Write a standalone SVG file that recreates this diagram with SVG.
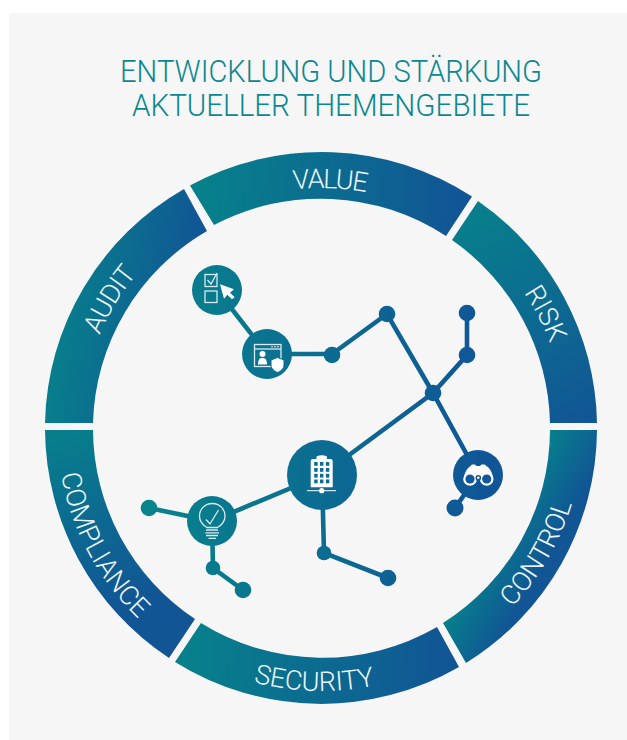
<svg xmlns="http://www.w3.org/2000/svg" xmlns:xlink="http://www.w3.org/1999/xlink" width="627" height="740" viewBox="0 0 627 740">
<style>
.t{font-family:"Roboto","Liberation Sans",sans-serif;font-weight:300}
.title{font-size:32px;fill:#0b8791;text-anchor:middle}
.lab{font-size:27px;fill:#eef5f7;text-anchor:middle}
.ic{fill:none;stroke:#dbeaf0;stroke-width:1.3}
.wf{fill:#fff}
.link{fill:none;stroke:url(#net);stroke-width:4.6}
.dot{fill:url(#net)}
</style>
<defs>
<linearGradient id="net" gradientUnits="userSpaceOnUse" x1="150" y1="0" x2="480" y2="0"><stop offset="0" stop-color="#07838c"/><stop offset="1" stop-color="#105696"/></linearGradient>
<linearGradient id="gValue" gradientUnits="userSpaceOnUse" x1="205" y1="205" x2="460" y2="215"><stop offset="0" stop-color="#07808b"/><stop offset="1" stop-color="#115595"/></linearGradient>
<linearGradient id="gRisk" gradientUnits="userSpaceOnUse" x1="478" y1="201" x2="609" y2="413"><stop offset="0" stop-color="#07808b"/><stop offset="1" stop-color="#115595"/></linearGradient>
<linearGradient id="gControl" gradientUnits="userSpaceOnUse" x1="443" y1="623" x2="495" y2="652"><stop offset="0" stop-color="#07808b"/><stop offset="1" stop-color="#115595"/></linearGradient>
<linearGradient id="gSecurity" gradientUnits="userSpaceOnUse" x1="190" y1="640" x2="450" y2="650"><stop offset="0" stop-color="#07808b"/><stop offset="1" stop-color="#115595"/></linearGradient>
<linearGradient id="gCompliance" gradientUnits="userSpaceOnUse" x1="45" y1="430" x2="109" y2="612"><stop offset="0" stop-color="#07808b"/><stop offset="1" stop-color="#115595"/></linearGradient>
<linearGradient id="gAudit" gradientUnits="userSpaceOnUse" x1="38" y1="422" x2="172" y2="442"><stop offset="0" stop-color="#07808b"/><stop offset="1" stop-color="#115595"/></linearGradient>
<path id="pValue" d="M208.3 216.1A240 240 0 0 1 448.2 224.5"/>
<path id="pRisk" d="M453.9 223.4A244 244 0 0 1 564.7 440.8"/>
<path id="pAudit" d="M81 423.8A240 240 0 0 1 204.6 218.1"/>
<path id="pCompliance" d="M57.2 417.4A264 264 0 0 0 179.9 651.2"/>
<path id="pSecurity" d="M181.6 651A263 263 0 0 0 444.5 660.2"/>
<path id="pControl" d="M452 654.9A262 262 0 0 0 583 428"/>
</defs>
<rect width="627" height="740" fill="#fff"/>
<rect x="9" y="13" width="618" height="727" fill="#f6f6f6"/>
<g id="title" class="t">
<text class="title" x="331" y="82" textLength="422" lengthAdjust="spacingAndGlyphs">ENTWICKLUNG UND STÄRKUNG</text>
<text class="title" x="331" y="116" textLength="398" lengthAdjust="spacingAndGlyphs">AKTUELLER THEMENGEBIETE</text>
</g>
<g id="seg-value"><path fill="url(#gValue)" d="M190 185.5A276 276 0 0 1 472 196.5L446 236A229 229 0 0 0 214 225Z"/><text class="t lab" letter-spacing="-1.5"><textPath href="#pValue" startOffset="50%">VALUE</textPath></text></g>
<g id="seg-risk"><path fill="url(#gRisk)" d="M478 201A276 276 0 0 1 597 423H550A229 229 0 0 0 452 240Z"/><text class="t lab"><textPath href="#pRisk" startOffset="50%">RISK</textPath></text></g>
<g id="seg-control"><path fill="url(#gControl)" d="M597 430A276 276 0 0 1 466 663L443 623A229 229 0 0 0 550 430Z"/><text class="t lab"><textPath href="#pControl" startOffset="50%">CONTROL</textPath></text></g>
<g id="seg-security"><path fill="url(#gSecurity)" d="M459 667A276 276 0 0 1 175 662L201 623A229 229 0 0 0 437 627Z"/><text class="t lab"><textPath href="#pSecurity" startOffset="50.800%">SECURITY</textPath></text></g>
<g id="seg-compliance"><path fill="url(#gCompliance)" d="M169 658A276 276 0 0 1 45 430H93A229 229 0 0 0 195 619Z"/><text class="t lab"><textPath href="#pCompliance" startOffset="50.800%">COMPLIANCE</textPath></text></g>
<g id="seg-audit"><path fill="url(#gAudit)" d="M45 423A276 276 0 0 1 184 189L207 231A229 229 0 0 0 93 423Z"/><text class="t lab" letter-spacing="-.8"><textPath href="#pAudit" startOffset="50.500%">AUDIT</textPath></text></g>
<g id="connectors">
<path class="link" d="M217 290L267 354H332L387 314L433 393L478 475L455 508"/>
<path class="link" d="M467 313V355L433 393L322 475L212 521L149 508"/>
<path class="link" d="M212 521L213 568L243 590"/>
<path class="link" d="M322 475L324 553L388 578"/>
</g>
<g id="node-checklist"><circle class="dot" cx="217" cy="290" r="25"/>
<rect class="ic" x="205" y="274.5" width="12" height="12"/><rect class="ic" x="205" y="291" width="12" height="11.5"/>
<path class="ic" d="M207.5 280L211 284L217 273"/>
<path class="wf" d="M220 284.3L234 289.3L230 292.7L234.7 297.3L232 299.3L227.3 294.7L224 298.7Z"/></g>
<g id="node-browser"><circle class="dot" cx="267" cy="354" r="25"/>
<rect class="ic" x="254.5" y="344.5" width="26.5" height="22"/><path class="ic" d="M254.5 349H281"/>
<circle class="wf" cx="272" cy="346.8" r=".8"/><circle class="wf" cx="275" cy="346.8" r=".8"/><circle class="wf" cx="278" cy="346.8" r=".8"/>
<circle class="wf" cx="262.5" cy="354" r="3"/><path class="wf" d="M258 364.500C258 359 260 358 262.500 358S267 359 267 364.500Z"/>
<path class="wf" stroke="#097091" stroke-width="1" d="M277.500 357.500L284 360V365C284 369 280 371.500 277.500 372.500C275 371.500 271 369 271 365V360Z"/></g>
<g id="node-hub1"><circle class="dot" cx="332" cy="355" r="8.300"/></g>
<g id="node-hub2"><circle class="dot" cx="387" cy="314" r="8.300"/></g>
<g id="node-hub3"><circle class="dot" cx="467" cy="313" r="8.300"/></g>
<g id="node-hub4"><circle class="dot" cx="467" cy="355" r="8.300"/></g>
<g id="node-hub5"><circle class="dot" cx="433" cy="393" r="8.300"/></g>
<g id="node-building"><circle class="dot" cx="322" cy="475" r="35"/>
<path class="wf" d="M310.700 487.300V461Q310.700 459 313 459H316.500V456.500Q321.700 454 327 456.500V459H330.500Q332.700 459 332.700 461V487.300Z"/>
<g fill="#0b6b92"><rect x="314.200" y="462" width="3.400" height="3.800"/><rect x="320" y="462" width="3.400" height="3.800"/><rect x="325.900" y="462" width="3.400" height="3.800"/>
<rect x="314.200" y="468" width="3.400" height="3.800"/><rect x="320" y="468" width="3.400" height="3.800"/><rect x="325.900" y="468" width="3.400" height="3.800"/>
<rect x="314.200" y="473.800" width="3.400" height="3.800"/><rect x="320" y="473.800" width="3.400" height="3.800"/><rect x="325.900" y="473.800" width="3.400" height="3.800"/>
<rect x="314.200" y="479.500" width="3.400" height="3.800"/><rect x="320" y="479.500" width="3.400" height="3.800"/><rect x="325.900" y="479.500" width="3.400" height="3.800"/></g>
<path d="M307 490.700H336" stroke="#fff" stroke-width="1"/><circle class="wf" cx="321.700" cy="490.700" r="2.600"/></g>
<g id="node-hub6"><circle class="dot" cx="324" cy="553" r="7.300"/></g>
<g id="node-hub7"><circle class="dot" cx="388" cy="578" r="8.300"/></g>
<g id="node-bulb"><circle class="dot" cx="212" cy="521" r="25"/>
<path class="ic" d="M207 527.500C202 524.500 199.500 520.500 199.500 516C199.500 509 205 503.500 212.300 503.500S225 509 225 516C225 520.500 222.500 524.500 217.500 527.500Z"/>
<path class="ic" d="M206 519.500L210 524L218.500 510"/>
<path class="ic" stroke-width="1" d="M206 530H218M205.500 532.800H219M206 535.500H218M208.500 538.300H216"/></g>
<g id="node-hub8"><circle class="dot" cx="149" cy="508" r="8.300"/></g>
<g id="node-hub9"><circle class="dot" cx="213" cy="568" r="7.300"/></g>
<g id="node-hub10"><circle class="dot" cx="243" cy="590" r="8.300"/></g>
<g id="node-binoculars"><circle class="dot" cx="478" cy="475" r="25"/>
<path class="wf" d="M464 479C464 474 467 468 470 466.500L472 464.500L475 464.500L476.500 466H480L481.500 464.500L484.500 464.500L487 466.500C490 468 493 474 493 479Z"/>
<circle class="wf" cx="470" cy="479" r="6.800"/><circle class="wf" cx="486.700" cy="479" r="6.800"/>
<circle cx="470" cy="479" r="4.600" fill="#10589a"/><circle cx="486.700" cy="479" r="4.600" fill="#10589a"/>
<circle cx="478.300" cy="477.700" r="2.800" fill="#10589a"/><circle class="wf" cx="478.300" cy="477.700" r="1.300"/></g>
<g id="node-hub11"><circle class="dot" cx="455" cy="508" r="8.500"/></g>
</svg>
